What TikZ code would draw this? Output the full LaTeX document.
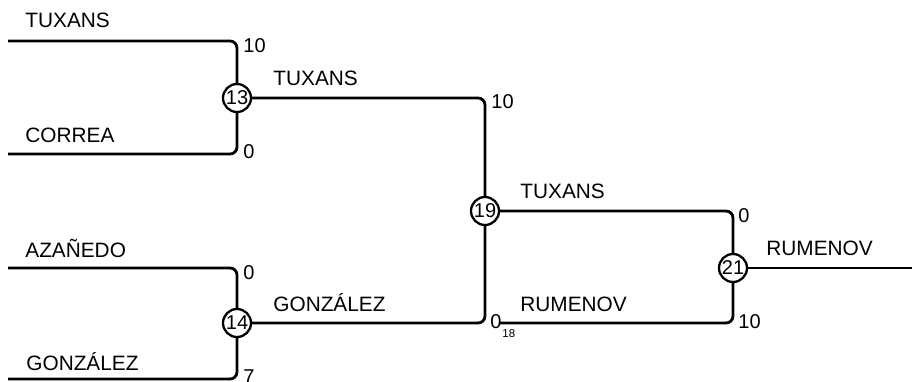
\documentclass[tikz,border=0pt]{standalone}
\usepackage{fontspec}
\setmainfont{Liberation Sans}
\usetikzlibrary{positioning}

\begin{document}
\begin{tikzpicture}[x=1pt,y=-1pt,line width=2.8pt,
		match/.style={draw,circle,minimum size=28pt,inner sep=0pt,line width=2.3pt,font=\fontsize{20}{20}\selectfont},
		player/.style={anchor=base west,inner sep=0pt,font=\fontsize{20.8}{21}\selectfont},
		score/.style={anchor=base west,inner sep=0pt,font=\fontsize{20}{20}\selectfont},
		tie/.style={rounded corners=7pt}]
	\useasboundingbox (0,0) rectangle (912,381);
	% matches
	\node[match] (m_13) at (237,98) {13};
	\node[match] (m_14) at (237,323) {14};
	\node[match] (m_19) at (485,211) {19};
	\node[match] (m_21) at (733,268) {21};
	% free ends
	\coordinate (p_1) at (8,41);
	\coordinate (p_2) at (8,154);
	\coordinate (p_3) at (8,268);
	\coordinate (p_4) at (8,379);
	\coordinate (m_18) at (500,323);
	\coordinate (win) at (912,268);
	% lines
	\draw[tie] (p_1) -| (m_13);
	\draw[tie] (p_2) -| (m_13);
	\draw[tie] (p_3) -| (m_14);
	\draw[tie] (p_4) -| (m_14);
	\draw[tie] (m_13) -| (m_19);
	\draw[tie] (m_14) -| (m_19);
	\draw[tie] (m_19) -| (m_21);
	\draw[tie] (m_18) -| (m_21);
	\draw (m_21) -- (win);
	% names
	\node[player] (n_1) at (24,27) {TUXANS};
	\node[player] (n_2) at (24,142) {CORREA};
	\node[player] (n_3) at (24,257) {AZAÑEDO};
	\node[player] (n_4) at (25,370) {GONZÁLEZ};
	\node[player] (n_13) at (272,85) {TUXANS};
	\node[player] (n_14) at (272,311) {GONZÁLEZ};
	\node[player] (n_19) at (519,198) {TUXANS};
	\node[player] (n_18) at (519,311) {RUMENOV};
	\node[player] (n_21) at (765,255) {RUMENOV};
	% scores
	\node[score] (s_1) at (242,52) {10};
	\node[score] (s_2) at (242,158) {0};
	\node[score] (s_3) at (242,279) {0};
	\node[score] (s_4) at (242,383) {7};
	\node[score] (s_13) at (490,108) {10};
	\node[score] (s_14) at (489,328) {0};
	\node[score,font=\fontsize{11.5}{12}\selectfont] (s_18) at (501,337) {18};
	\node[score] (s_19) at (737,222) {0};
	\node[score] (s_21) at (737,328) {10};
\end{tikzpicture}
\end{document}
